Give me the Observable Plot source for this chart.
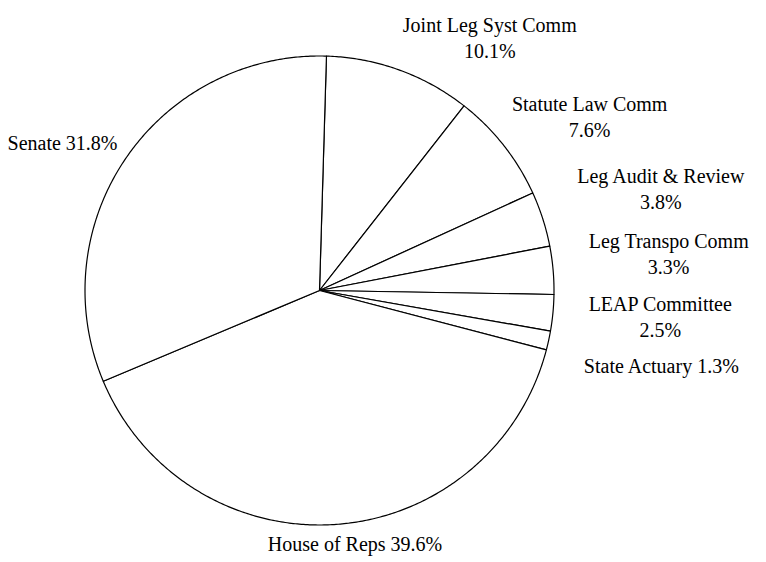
<!DOCTYPE html>
<html>
<head>
<meta charset="utf-8">
<script src="https://cdn.jsdelivr.net/npm/d3@7"></script>
<script src="https://cdn.jsdelivr.net/npm/@observablehq/plot@0.6"></script>
<style>
  html, body { margin: 0; padding: 0; background: #fff; }
  #chart { width: 766px; height: 562px; }
</style>
</head>
<body>
<div id="chart"></div>
<script>
// ---- data ----
const categories = ["Joint Leg Syst Comm", "Statute Law Comm", "Leg Audit & Review", "Leg Transpo Comm", "LEAP Committee", "State Actuary", "House of Reps", "Senate"];
const shares = [10.1, 7.6, 3.8, 3.3, 2.5, 1.3, 39.6, 31.8];

// ---- layout ----
const W = 766, H = 562;
const CX = 319, CY = 290, R = 234.5;          // pie centre and radius (px)
const START = 1.7 * Math.PI / 180;            // first slice starts just right of 12 o'clock
const FONT_SIZE = 20, LINE_H = 26, FONT = "Liberation Serif";
const GAP = 18.6;                             // min vertical gap between label boxes
const MAX_ONE_LINE = 160;

const total = d3.sum(shares);
let acc = 0;
const slices = categories.map((name, i) => {
  const a0 = START + acc / total * 2 * Math.PI;
  acc += shares[i];
  const a1 = START + acc / total * 2 * Math.PI;
  return {name, value: shares[i], a0, a1};
});

// slice polygons in unit-radius coordinates (y up)
const pts = [];
for (const s of slices) {
  pts.push({name: s.name, x: 0, y: 0});
  const n = Math.max(2, Math.ceil((s.a1 - s.a0) / (0.5 * Math.PI / 180)));
  for (let k = 0; k <= n; k++) {
    const a = s.a0 + (s.a1 - s.a0) * k / n;
    pts.push({name: s.name, x: Math.sin(a), y: Math.cos(a)});
  }
}

// label placement
const ctx = document.createElement("canvas").getContext("2d");
ctx.font = `${FONT_SIZE}px '${FONT}'`;
const measure = t => ctx.measureText(t).width;
const clamp = (v, lo, hi) => Math.max(lo, Math.min(hi, v));
const smooth = (v, e0, e1) => { const t = clamp((v - e0) / (e1 - e0), 0, 1); return t * t * (3 - 2 * t); };

const labels = slices.map(sl => {
  const mid = (sl.a0 + sl.a1) / 2, s = Math.sin(mid), c = Math.cos(mid);
  const pct = sl.value.toFixed(1) + "%";
  const one = sl.name + " " + pct;
  const lines = (Math.abs(s) > 0.3 && measure(one) > MAX_ONE_LINE) ? [sl.name, pct] : [one];
  const w = d3.max(lines, measure) / 2;
  const h = ((lines.length - 1) * LINE_H + 18) / 2;
  const r = R + 35.5 - 25 * smooth(Math.abs(c), 0.35, 0.55);
  const px = CX + r * s, py = CY - r * c;
  const fx = clamp(s / 0.34, -1, 1), fy = clamp(c * 2.9, -1, 1);
  return {text: lines.join("\n"), side: s >= 0 ? "R" : "L", h, cx: px + w * fx, cy: py - h * fy};
});

function resolve(list) {
  list.sort((a, b) => a.cy - b.cy);
  const blocks = [];
  for (const l of list) {
    let b = {items: [l], off: [0], sum: l.cy, start: l.cy};
    while (blocks.length) {
      const p = blocks[blocks.length - 1];
      const pl = p.items[p.items.length - 1];
      const pEnd = p.start + p.off[p.off.length - 1];
      const need = pl.h + b.items[0].h + GAP;
      if (b.start - pEnd >= need) break;
      const base = p.off[p.off.length - 1] + need;
      const items = p.items.concat(b.items);
      const off = p.off.concat(b.off.map(o => o + base));
      const sum = p.sum + b.sum;
      const meanOff = d3.mean(off);
      b = {items, off, sum, start: sum / items.length - meanOff};
      blocks.pop();
    }
    blocks.push(b);
  }
  for (const b of blocks) b.items.forEach((l, i) => { l.cy = b.start + b.off[i]; });
}
resolve(labels.filter(d => d.side === "R"));
resolve(labels.filter(d => d.side === "L"));

const labelData = labels.map(d => ({text: d.text, x: (d.cx - CX) / R, y: (CY - (d.cy - 1.4)) / R}));

const chart = Plot.plot({
  width: W,
  height: H,
  margin: 0,
  style: {background: "white", fontFamily: FONT},
  x: {domain: [-CX / R, (W - CX) / R], range: [0, W], axis: null},
  y: {domain: [-(H - CY) / R, CY / R], range: [H, 0], axis: null},
  marks: [
    Plot.line(pts, {x: "x", y: "y", z: "name", curve: "linear-closed", fill: "white", stroke: "black", strokeWidth: 1.2, strokeLinejoin: "round"}),
    Plot.text(labelData, {x: "x", y: "y", text: "text", textAnchor: "middle", lineAnchor: "middle", lineHeight: LINE_H / FONT_SIZE, fontSize: FONT_SIZE, fontFamily: FONT, fill: "black"})
  ]
});
document.getElementById("chart").appendChild(chart);
</script>
</body>
</html>
